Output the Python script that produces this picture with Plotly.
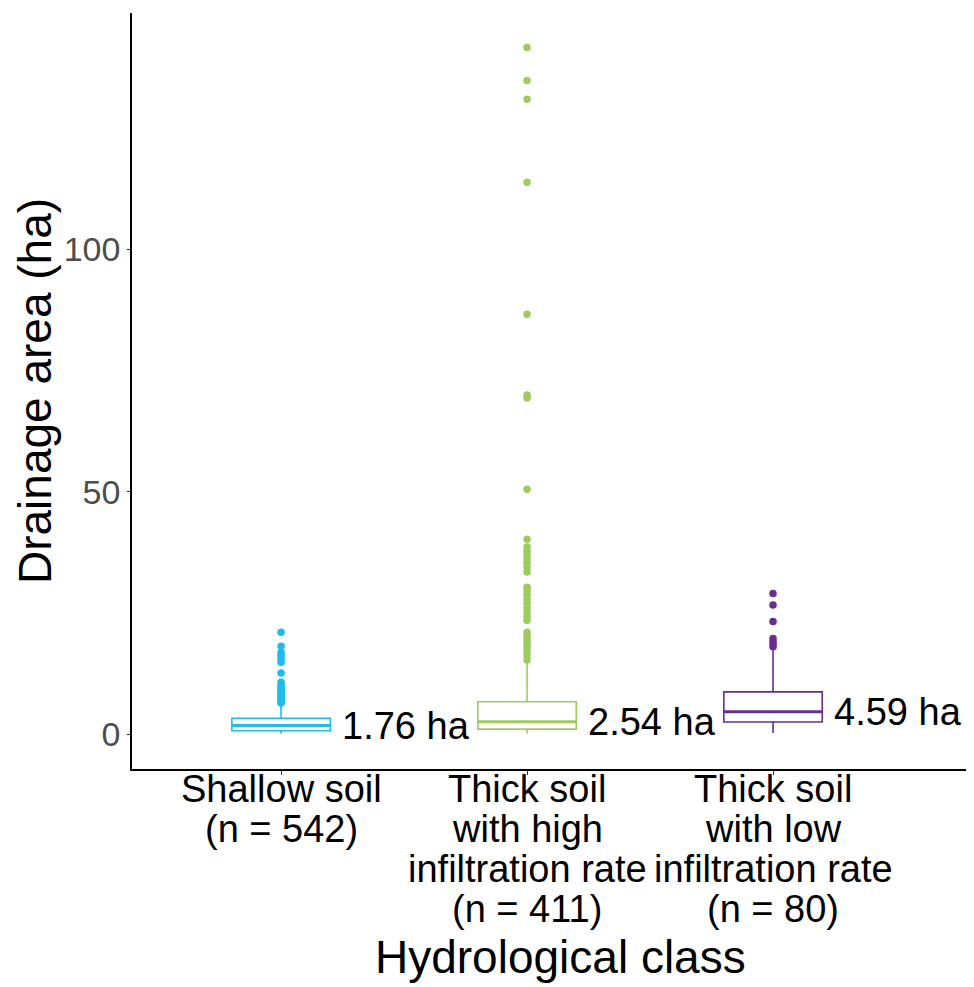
import plotly.graph_objects as go

# ---- data ----
categories = ["Shallow soil", "Thick soil\nwith high\ninfiltration rate", "Thick soil\nwith low\ninfiltration rate"]
counts = [542, 411, 80]
colors = ["#1FBCEB", "#9DCB5E", "#6B2C8F"]
q1 = [0.68, 1.03, 2.5]
medians = [1.76, 2.54, 4.59]
q3 = [3.23, 6.66, 8.7]
lower_whisker = [0.05, 0.1, 0.2]
upper_whisker = [6.0, 14.8, 17.3]
outliers_shallow = [21.0, 18.1, 16.8, 16.2, 15.5, 14.8, 12.6, 10.7, 10.2, 9.8, 9.4,
                    9.0, 8.6, 8.2, 7.9, 7.5, 7.2, 6.9, 6.6, 6.4]
outliers_high = [141.6, 134.8, 130.9, 113.8, 86.6, 69.9, 69.3, 50.5, 40.2, 38.6, 37.7,
                 36.9, 36.1, 35.3, 34.4, 33.4, 30.3, 29.5, 28.7, 27.8, 27.0, 26.0, 25.2,
                 24.3, 23.5, 21.0, 20.2, 19.4, 18.8, 17.9, 17.1, 16.3, 15.3]
outliers_low = [29.0, 26.6, 23.2, 19.7, 19.0, 18.4, 18.0]
outliers = [outliers_shallow, outliers_high, outliers_low]
y_ticks = [0, 50, 100]
x_title = "Hydrological class"
y_title = "Drainage area (ha)"

FONT = "Arial, Liberation Sans, sans-serif"
fig = go.Figure()
positions = list(range(len(categories)))
box_w = 0.4

for i, cat in enumerate(categories):
    fig.add_trace(go.Box(
        x=[positions[i]], q1=[q1[i]], median=[medians[i]], q3=[q3[i]],
        lowerfence=[lower_whisker[i]], upperfence=[upper_whisker[i]],
        width=box_w, whiskerwidth=0, fillcolor="rgba(255,255,255,0)",
        line=dict(color=colors[i], width=1.6), name=cat.replace("\n", " "),
        hoverinfo="skip", showlegend=False))
    # thicker median line
    fig.add_trace(go.Scatter(
        x=[positions[i] - box_w / 2, positions[i] + box_w / 2], y=[medians[i], medians[i]],
        mode="lines", line=dict(color=colors[i], width=3), showlegend=False, hoverinfo="skip"))
    fig.add_trace(go.Scatter(
        x=[positions[i]] * len(outliers[i]), y=outliers[i], mode="markers",
        marker=dict(color=colors[i], size=7.5, line=dict(width=0)),
        showlegend=False, hoverinfo="skip"))
    # median label
    fig.add_annotation(x=positions[i] + 0.24, y=medians[i], xref="x", yref="y",
                       text=f"{medians[i]:.2f} ha", showarrow=False, xanchor="left",
                       yanchor="middle", font=dict(family=FONT, size=38, color="black"))
    # category label lines
    lines = cat.split("\n") + [f"(n = {counts[i]})"]
    for k, ln in enumerate(lines):
        fig.add_annotation(x=positions[i], y=0, xref="x", yref="paper", text=ln,
                           showarrow=False, xanchor="center", yanchor="middle",
                           yshift=-(789 + 40 * k - 769),
                           font=dict(family=FONT, size=38, color="black"))

fig.add_annotation(x=0.5, y=0, xref="paper", yref="paper", text=x_title, showarrow=False,
                   xanchor="center", yanchor="middle", xshift=(560 - 132 - 421), yshift=-(957 - 769),
                   font=dict(family=FONT, size=46, color="black"))
fig.add_annotation(x=0, y=0.5, xref="paper", yref="paper", text=y_title, showarrow=False,
                   textangle=-90, xanchor="center", yanchor="middle", xshift=-97,
                   font=dict(family=FONT, size=46, color="black"))

# page body has an 8px margin: size the figure so the plot area lands on the reference pixels
fig.update_layout(
    width=966, height=979,
    margin=dict(l=124, r=0, t=5, b=218),
    plot_bgcolor="white", paper_bgcolor="white",
    font=dict(family=FONT),
    showlegend=False,
)
fig.update_xaxes(range=[-0.606, 2.817], tickvals=positions, showticklabels=False,
                 ticks="outside", ticklen=4, tickcolor="#333333", tickwidth=1,
                 showline=True, linecolor="black", linewidth=1.5, showgrid=False, zeroline=False)
fig.update_yaxes(range=[-7.2, 148.7], tickvals=y_ticks, ticks="outside", ticklen=3,
                 tickcolor="#333333", tickwidth=1,
                 tickfont=dict(family=FONT, size=34, color="#4D4D4D"),
                 showline=True, linecolor="black", linewidth=1.5, showgrid=False, zeroline=False)

fig.write_html("out.html")
